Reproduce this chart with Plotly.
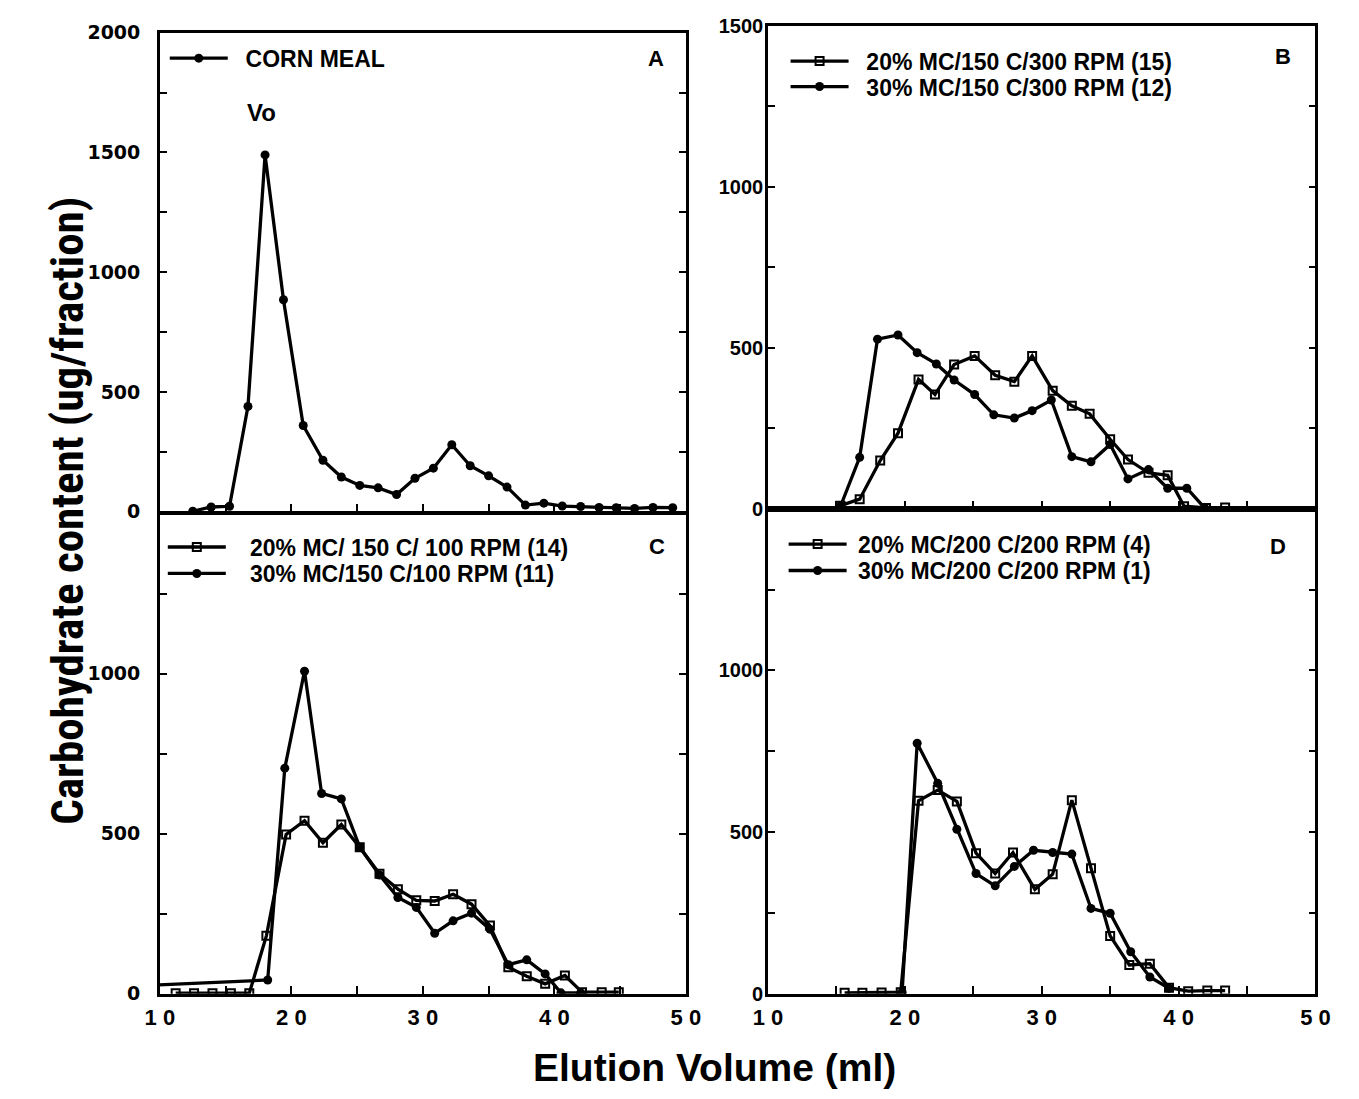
import plotly.graph_objects as go

# ---------------- data ----------------
# Panel A : corn meal
a_x = [12.5, 13.9, 15.3, 16.7, 18.0, 19.4, 20.9, 22.4, 23.8, 25.2, 26.6, 28.0, 29.4, 30.8,
       32.2, 33.6, 35.0, 36.4, 37.8, 39.2, 40.6, 42.0, 43.4, 44.7, 46.1, 47.5, 49.0]
a_y = [2, 20, 23, 440, 1490, 885, 360, 215, 145, 110, 100, 72, 140, 182,
       280, 192, 150, 103, 28, 36, 24, 22, 18, 17, 14, 18, 17]

# Panel B : 150 C / 300 RPM
b20_x = [15.3, 16.7, 18.2, 19.5, 21.0, 22.2, 23.6, 25.1, 26.6, 28.0, 29.3, 30.8, 32.2, 33.5,
         35.0, 36.3, 37.8, 39.2, 40.4, 42.0, 43.4]
b20_y = [10, 30, 150, 235, 402, 355, 448, 475, 415, 395, 475, 367, 320, 295,
         216, 153, 112, 104, 8, 3, 4]
b30_x = [15.3, 16.7, 18.0, 19.5, 20.9, 22.3, 23.6, 25.1, 26.5, 28.0, 29.3, 30.7, 32.2, 33.6,
         35.0, 36.3, 37.8, 39.2, 40.6, 41.9]
b30_y = [8, 160, 527, 540, 485, 450, 400, 355, 292, 282, 305, 338, 162, 146,
         200, 93, 122, 64, 64, 3]

# Panel C : 150 C / 100 RPM
c20_x = [11.2, 12.6, 14.0, 15.4, 16.8, 18.1, 19.6, 21.0, 22.4, 23.8, 25.2, 26.7, 28.1, 29.5,
         30.9, 32.3, 33.7, 35.1, 36.5, 37.9, 39.3, 40.8, 42.1, 43.6, 44.9]
c20_y = [2, 2, 2, 2, 2, 181, 498, 541, 472, 529, 458, 375, 327, 292,
         290, 311, 280, 213, 83, 55, 31, 57, 5, 5, 5]
c30_x = [9.5, 18.2, 19.5, 21.0, 22.3, 23.8, 25.2, 26.7, 28.1, 29.5, 30.9, 32.3, 33.7, 35.1,
         36.5, 37.9, 39.3, 40.5, 42.0]
c30_y = [27, 43, 705, 1008, 626, 609, 458, 371, 301, 270, 189, 228, 252, 202,
         91, 106, 62, 3, 3]

# Panel D : 200 C / 200 RPM
d20_x = [15.6, 16.9, 18.3, 19.7, 21.0, 22.4, 23.8, 25.2, 26.6, 27.9, 29.5, 30.8, 32.2, 33.6,
         35.0, 36.4, 37.9, 39.3, 40.7, 42.1, 43.4]
d20_y = [3, 3, 4, 5, 597, 630, 595, 435, 372, 437, 323, 370, 599, 388,
         179, 89, 93, 19, 8, 10, 10]
d30_x = [19.8, 20.9, 22.4, 23.8, 25.2, 26.6, 28.0, 29.4, 30.8, 32.2, 33.6, 35.0, 36.5, 37.9, 39.3]
d30_y = [5, 775, 651, 509, 372, 334, 394, 444, 437, 432, 264, 249, 130, 52, 17]

NB = "\u00a0"
names = {
    "a": NB * 2 + "CORN MEAL",
    "b20": NB * 2 + "20% MC/150 C/300 RPM (15)",
    "b30": NB * 2 + "30% MC/150 C/300 RPM (12)",
    "c20": NB * 3 + "20% MC/ 150 C/ 100 RPM (14)",
    "c30": NB * 3 + "30% MC/150 C/100 RPM (11)",
    "d20": NB + "20% MC/200 C/200 RPM (4)",
    "d30": NB + "30% MC/200 C/200 RPM (1)",
}

x_tickvals = [10, 15, 20, 25, 30, 35, 40, 45, 50]
x_ticktext = ["1 0", "", "2 0", "", "3 0", "", "4 0", "", "5 0"]

# ---------------- geometry (screen pixels; page body has an 8px margin) ----------------
SW, SH, OFF = 1359, 1099, 8
W, H = SW - 2 * OFF, SH - 2 * OFF

def fx(p):
    return (p - OFF) / W

def fy(p):
    return 1 - (p - OFF) / H

FONT = "Liberation Sans, Arial, Helvetica, sans-serif"
WIDE = "DejaVu Sans, Verdana, sans-serif"
COND = "Roboto Condensed, DejaVu Sans Condensed, Liberation Sans Narrow, Liberation Sans, sans-serif"
LW = 3.3

def x_axis(left, right, anchor, labels):
    return dict(domain=[fx(left), fx(right)], anchor=anchor, range=[10, 50],
                showgrid=False, zeroline=False,
                showline=True, linecolor="black", linewidth=2.5, mirror=True,
                ticks="inside", ticklen=8, tickwidth=2, tickcolor="black",
                tickvals=x_tickvals, ticktext=x_ticktext, showticklabels=labels,
                tickfont=dict(family=FONT, size=22, color="black", weight="bold"),
                ticklabelstandoff=2)

def y_axis(top, bottom, anchor, ymax, labeled, font, standoff):
    vals = list(range(0, ymax + 1, 250))
    text = [str(v) if v in labeled else "" for v in vals]
    return dict(domain=[fy(bottom), fy(top)], anchor=anchor, range=[0, ymax],
                showgrid=False, zeroline=False,
                showline=True, linecolor="black", linewidth=2.5, mirror="ticks",
                ticks="inside", ticklen=7, tickwidth=2, tickcolor="black",
                tickvals=vals, ticktext=text, tickfont=font,
                ticklabelstandoff=standoff)

def line_trace(x, y, name, xa, ya, legend, symbol):
    if symbol == "square":
        marker = dict(symbol="square-open", size=8, color="black", line=dict(width=2, color="black"))
    else:
        marker = dict(symbol="circle", size=9, color="black")
    return go.Scatter(x=x, y=y, name=name, xaxis=xa, yaxis=ya, legend=legend,
                      mode="lines+markers", line=dict(color="black", width=LW),
                      marker=marker, cliponaxis=True)

fig = go.Figure()
fig.add_trace(line_trace(a_x, a_y, names["a"], "x", "y", "legend", "circle"))
fig.add_trace(line_trace(b20_x, b20_y, names["b20"], "x2", "y2", "legend2", "square"))
fig.add_trace(line_trace(b30_x, b30_y, names["b30"], "x2", "y2", "legend3", "circle"))
fig.add_trace(line_trace(c20_x, c20_y, names["c20"], "x3", "y3", "legend4", "square"))
fig.add_trace(line_trace(c30_x, c30_y, names["c30"], "x3", "y3", "legend5", "circle"))
fig.add_trace(line_trace(d20_x, d20_y, names["d20"], "x4", "y4", "legend6", "square"))
fig.add_trace(line_trace(d30_x, d30_y, names["d30"], "x4", "y4", "legend7", "circle"))

wide_font = dict(family=WIDE, size=19, color="black", weight="bold")
reg_font = dict(family=FONT, size=20, color="black", weight="bold")
leg_font = dict(family=FONT, size=23, color="black", weight="bold")

def legend(line_start, yc):
    return dict(x=fx(line_start - 9), y=fy(yc), xanchor="left", yanchor="middle",
                bgcolor="rgba(0,0,0,0)", borderwidth=0, font=leg_font,
                itemwidth=58, tracegroupgap=0, itemclick=False)

fig.update_layout(
    width=W, height=H, autosize=False,
    margin=dict(l=0, r=0, t=0, b=0),
    paper_bgcolor="white", plot_bgcolor="white",
    showlegend=True,
    xaxis=x_axis(148, 686, "y", False),
    yaxis=y_axis(22, 511, "x", 2000, [0, 500, 1000, 1500, 2000], wide_font, 13),
    xaxis2=x_axis(770, 1330, "y2", False),
    yaxis2=y_axis(15, 508, "x2", 1500, [0, 500, 1000, 1500], reg_font, -2),
    xaxis3=x_axis(148, 686, "y3", True),
    yaxis3=y_axis(513, 1003, "x3", 1500, [0, 500, 1000], wide_font, 13),
    xaxis4=x_axis(770, 1330, "y4", True),
    yaxis4=y_axis(508, 1003, "x4", 1500, [0, 500, 1000], reg_font, -2),
    legend=legend(162, 48),
    legend2=legend(797, 51),
    legend3=legend(797, 77),
    legend4=legend(160, 547),
    legend5=legend(160, 574),
    legend6=legend(795, 544),
    legend7=legend(795, 571),
)

annotations = [
    dict(text="A", x=655, y=48, size=22),
    dict(text="B", x=1297, y=46, size=22),
    dict(text="C", x=656, y=546, size=22),
    dict(text="D", x=1292, y=546, size=22),
    dict(text="Vo", x=252, y=103, size=24),
]
for a in annotations:
    fig.add_annotation(text=a["text"], xref="paper", yref="paper", x=fx(a["x"]), y=fy(a["y"]),
                       showarrow=False, xanchor="center", yanchor="middle",
                       font=dict(family=FONT, size=a["size"], color="black", weight="bold"))

fig.add_annotation(text="Carbohydrate content (ug/fraction)", xref="paper", yref="paper",
                   x=fx(54), y=fy(510), textangle=-90, showarrow=False,
                   xanchor="center", yanchor="middle",
                   font=dict(family=COND, size=45, color="black", weight="bold"))
fig.add_annotation(text="Elution Volume (ml)", xref="paper", yref="paper",
                   x=fx(715), y=fy(1078), showarrow=False,
                   xanchor="center", yanchor="middle",
                   font=dict(family=FONT, size=39, color="black", weight="bold"))

fig.write_html("out.html")
